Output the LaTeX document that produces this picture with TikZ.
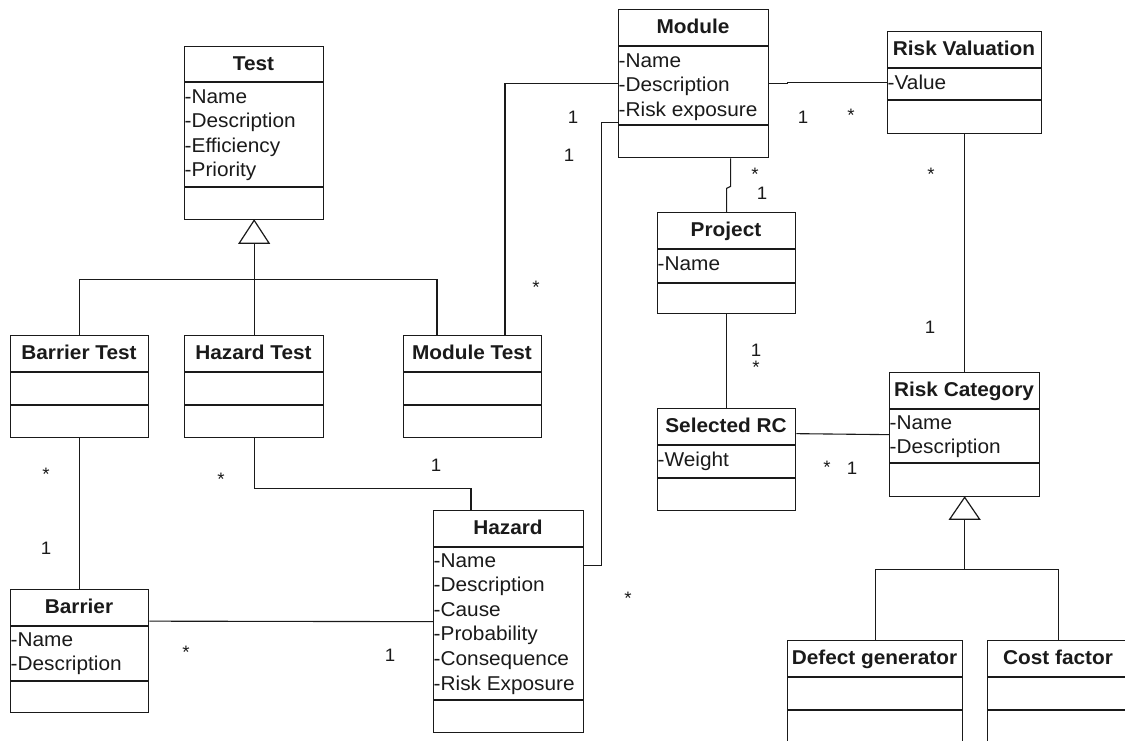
\documentclass[tikz,border=0pt]{standalone}
\usepackage{fontspec}
\setmainfont{Liberation Sans}[FakeStretch=1.04]
\definecolor{ink}{HTML}{1A1A1A}
\tikzset{
 cls/.style={draw=ink, line width=1.3pt, inner sep=0pt},
 divl/.style={draw=ink, line width=1.3pt},
 conn/.style={draw=ink, line width=1.1pt},
 ctitle/.style={font=\bfseries\fontsize{20}{24}\selectfont, anchor=base, inner sep=0pt, text=ink},
 cattr/.style={font=\fontsize{20}{24}\selectfont, anchor=base west, inner sep=0pt, text=ink},
 mult/.style={font=\fontsize{18}{20}\selectfont, inner sep=0pt, text=ink},
 mstar/.style={mult, yshift=-4pt},
 gen/.style={draw=ink, line width=1.2pt, fill=white},
}
\newcommand\umlbox[8]{%
 \node[cls, minimum width={#4-#2}, minimum height={#5-#3}, anchor=north west] (#1) at (#2,#3) {};
 \draw[divl] (#2,#6) -- (#4,#6);
 \draw[divl] (#2,#7) -- (#4,#7);
 \node[ctitle] (#1-title) at ({(#2+#4)/2},{#3+24}) {#8};
}
\newcommand\umlattrs[4]{%
 \foreach \a [count=\i] in {#4} \node[cattr] (#1-a\i) at ({#2+0.5},{#3+24.6*(\i-1)}) {\a};
}
\begin{document}
\begin{tikzpicture}[x=1pt,y=-1pt]
\clip (0,0) rectangle (1125,740);
\fill[white] (0,0) rectangle (1125,740);

% classes
\umlbox{test}{184}{46}{323}{219}{82}{187}{Test}
\umlattrs{test}{184}{103}{-Name,-Description,-Efficiency,-Priority}
\umlbox{module}{618}{9}{768}{157}{46}{125}{Module}
\umlattrs{module}{618}{67}{-Name,-Description,-Risk exposure}
\umlbox{rv}{887}{31}{1041}{133}{68}{100}{Risk Valuation}
\umlattrs{rv}{887}{89}{-Value}
\umlbox{btest}{10}{335}{148}{437}{372}{405}{Barrier Test}
\umlbox{htest}{184}{335}{323}{437}{372}{405}{Hazard Test}
\umlbox{mtest}{403}{335}{541}{437}{372}{405}{Module Test}
\umlbox{project}{657}{212}{795}{313}{249}{283}{Project}
\umlattrs{project}{657}{270}{-Name}
\umlbox{src}{657}{408}{795}{510}{445}{478}{Selected RC}
\umlattrs{src}{657}{466}{-Weight}
\umlbox{rc}{889}{372}{1039}{496}{409}{463}{Risk Category}
\umlattrs{rc}{889}{429}{-Name,-Description}
\umlbox{hazard}{433}{510}{583}{732}{547}{700}{Hazard}
\umlattrs{hazard}{433}{567}{-Name,-Description,-Cause,-Probability,-Consequence,-Risk Exposure}
\umlbox{barrier}{10}{589}{148}{712}{626}{681}{Barrier}
\umlattrs{barrier}{10}{646}{-Name,-Description}
\umlbox{defect}{787}{640}{962}{750}{677}{710}{Defect generator}
\umlbox{cost}{987}{640}{1129}{750}{677}{710}{Cost factor}

% associations
\draw[conn] ([xshift=102pt]mtest.north west) |- (module.west);
\draw[conn] (module.east) -- ++(18,0) |- (rv.west);
\draw[conn] ([yshift=56pt]hazard.east) -- ++(17,0) |- ([yshift=-39pt]module.west);
\draw[conn] ([xshift=37pt]module.south) -- ++(0,28) -- ++(-4,2) -- (project.north);
\draw[conn] (project.south) -- (src.north);
\draw[conn] ([yshift=26pt]src.east) -- (rc.west);
\draw[conn] (rv.south) -- (rc.north);
\draw[conn] (btest.south) -- (barrier.north);
\draw[conn] (htest.south) -- ++(0,50) -| ([xshift=38pt]hazard.north west);
\draw[conn] ([yshift=30pt]barrier.east) -- (hazard.west);

% generalization: Test
\coordinate (tgb) at ([yshift=-23pt]test.south);
\coordinate (tj) at ([yshift=-59pt]test.south);
\draw[conn] (tgb) -- (htest.north);
\draw[conn] (btest.north) |- (tj) -| ([xshift=34pt]mtest.north west);
\draw[gen] (test.south) -- ++(-15,23) -- ++(30,0) -- cycle;

% generalization: Risk Category
\coordinate (rgb) at ([yshift=-22pt]rc.south);
\coordinate (rj) at ([yshift=-72pt]rc.south);
\draw[conn] (rgb) -- (rj);
\draw[conn] (defect.north) |- (rj) -| (cost.north);
\draw[gen] (rc.south) -- ++(-15,22) -- ++(30,0) -- cycle;

% multiplicities
\node[mult] (m1) at (573,117) {1};
\node[mult] (m2) at (569,155) {1};
\node[mstar] (m3) at (536,283) {*};
\node[mult] (m4) at (803,117) {1};
\node[mstar] (m5) at (851,111) {*};
\node[mstar] (m6) at (755,170) {*};
\node[mult] (m7) at (762,193) {1};
\node[mstar] (m8) at (931,170) {*};
\node[mult] (m9) at (930,327) {1};
\node[mult] (m10) at (756,350) {1};
\node[mstar] (m11) at (756,363) {*};
\node[mstar] (m12) at (46,470) {*};
\node[mult] (m13) at (46,548) {1};
\node[mstar] (m14) at (221,475) {*};
\node[mult] (m15) at (436,465) {1};
\node[mstar] (m16) at (186,648) {*};
\node[mult] (m17) at (390,655) {1};
\node[mstar] (m18) at (628,594) {*};
\node[mstar] (m19) at (827,463) {*};
\node[mult] (m20) at (852,468) {1};
\end{tikzpicture}
\end{document}
